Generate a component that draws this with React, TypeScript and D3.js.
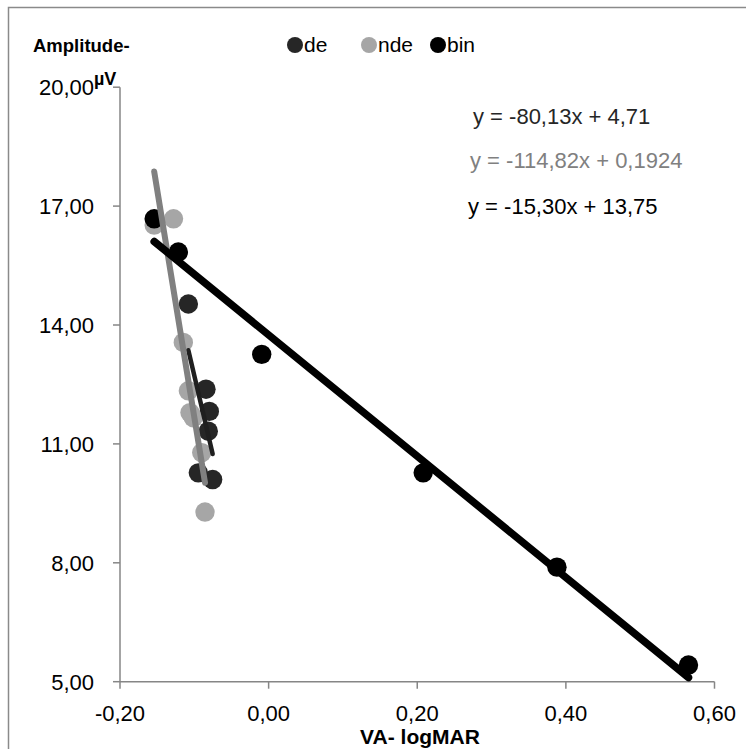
import React from "react";
import * as d3 from "d3";

const seriesNames = ["de", "nde", "bin"];
const seriesColors = ["#262626", "#a6a6a6", "#000000"];
const trendColors = ["#1f1f1f", "#808080", "#000000"];
const trendWidths = [4.5, 6, 7.5];

const deX = [-0.108, -0.0843, -0.0798, -0.0812, -0.0946, -0.0753];
const deY = [14.53, 12.38, 11.82, 11.32, 10.27, 10.1];
const ndeX = [-0.154, -0.128, -0.1148, -0.108, -0.1058, -0.1014, -0.09, -0.0856];
const ndeY = [16.52, 16.68, 13.56, 12.34, 11.79, 11.66, 10.78, 9.28];
const binX = [-0.154, -0.1215, -0.0093, 0.208, 0.388, 0.565];
const binY = [16.68, 15.84, 13.26, 10.27, 7.89, 5.42];

const trendSlopes = [-80.13, -114.82, -15.3];
const trendIntercepts = [4.71, 0.1924, 13.75];
const trendLabels = ["y = -80,13x + 4,71", "y = -114,82x + 0,1924", "y = -15,30x + 13,75"];
const labelColors = ["#262626", "#808080", "#000000"];

const xTicks = [-0.2, 0, 0.2, 0.4, 0.6];
const yTicks = [5, 8, 11, 14, 17, 20];

const FONT = "'Liberation Sans', Arial, sans-serif";

export default function App() {
  const x = d3.scaleLinear().domain([-0.2, 0.6]).range([120, 714.5]);
  const y = d3.scaleLinear().domain([5, 20]).range([681.7, 87.2]);
  const fmt = (v: number) => d3.format(".2f")(v).replace(".", ",").replace("−", "-");

  const xs = [deX, ndeX, binX];
  const ys = [deY, ndeY, binY];
  const line = d3
    .line<[number, number]>()
    .x((d) => x(d[0]))
    .y((d) => y(d[1]));

  return (
    <svg
      width={746}
      height={749}
      style={{ position: "absolute", left: 0, top: 0, background: "#fff" }}
    >
      <rect x={8.5} y={7.5} width={800} height={800} fill="#fff" stroke="#8a8a8a" strokeWidth={1.5} />

      {/* axes */}
      <line x1={x(-0.2)} x2={x(-0.2)} y1={y(20)} y2={y(5)} stroke="#868686" strokeWidth={1.5} />
      <line x1={x(-0.2)} x2={x(0.6)} y1={y(5)} y2={y(5)} stroke="#868686" strokeWidth={1.5} />
      {yTicks.map((t) => (
        <g key={"y" + t}>
          <line x1={x(-0.2) - 7} x2={x(-0.2)} y1={y(t)} y2={y(t)} stroke="#868686" strokeWidth={1.5} />
          <text x={94} y={y(t) + 8} textAnchor="end" fontFamily={FONT} fontSize={22} fill="#000">
            {fmt(t)}
          </text>
        </g>
      ))}
      {xTicks.map((t) => (
        <g key={"x" + t}>
          <line x1={x(t)} x2={x(t)} y1={y(5)} y2={y(5) + 7} stroke="#868686" strokeWidth={1.5} />
          <text x={x(t)} y={721} textAnchor="middle" fontFamily={FONT} fontSize={22} fill="#000">
            {fmt(t)}
          </text>
        </g>
      ))}

      {/* points */}
      {xs.map((sx, si) =>
        sx.map((vx, i) => (
          <circle key={si + "-" + i} cx={x(vx)} cy={y(ys[si][i])} r={9.7} fill={seriesColors[si]} />
        ))
      )}

      {/* trendlines */}
      {xs.map((sx, si) => {
        const [mn, mx] = d3.extent(sx) as [number, number];
        const pts: [number, number][] = [mn, mx].map((v) => [v, trendSlopes[si] * v + trendIntercepts[si]]);
        return (
          <path
            key={"t" + si}
            d={line(pts) || ""}
            stroke={trendColors[si]}
            strokeWidth={trendWidths[si]}
            strokeLinecap="round"
            fill="none"
          />
        );
      })}

      {/* equations */}
      {trendLabels.map((t, i) => (
        <text
          key={"eq" + i}
          x={[473, 470, 468][i]}
          y={[124, 168, 214][i]}
          fontFamily={FONT}
          fontSize={22}
          fill={labelColors[i]}
        >
          {t}
        </text>
      ))}

      {/* axis titles */}
      <text x={33} y={52} fontFamily={FONT} fontSize={18.5} fontWeight="bold" fill="#000">
        Amplitude-
      </text>
      <text x={94} y={85} fontFamily={FONT} fontSize={18} fontWeight="bold" fill="#000">
        µV
      </text>
      <text x={420} y={744} textAnchor="middle" fontFamily={FONT} fontSize={21} fontWeight="bold" fill="#000">
        VA- logMAR
      </text>

      {/* legend */}
      {seriesNames.map((n, i) => {
        const cx = [295, 369, 438][i];
        return (
          <g key={"lg" + n}>
            <circle cx={cx} cy={45} r={8} fill={seriesColors[i]} />
            <text x={cx + 9} y={52} fontFamily={FONT} fontSize={21} fill="#000">
              {n}
            </text>
          </g>
        );
      })}
    </svg>
  );
}
